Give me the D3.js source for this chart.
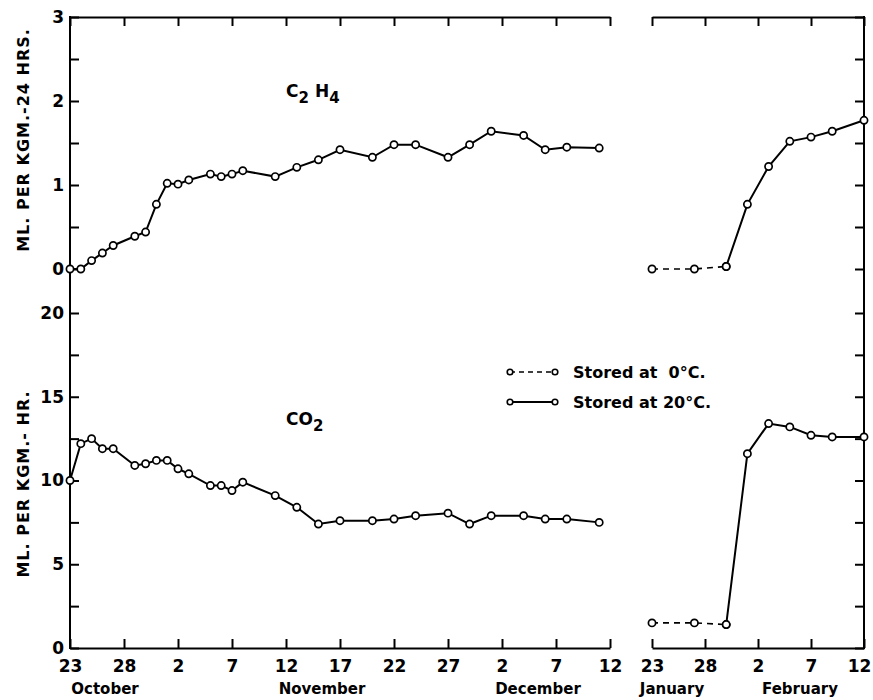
<!DOCTYPE html>
<html>
<head>
<meta charset="utf-8">
<script src="https://cdn.jsdelivr.net/npm/d3@7"></script>
<style>
  body { margin: 0; background: #fff; }
  svg { font-family: "DejaVu Sans", sans-serif; font-weight: bold; }
</style>
</head>
<body>
<script>
// ---------- data ----------
const fallDates = ["Oct 23","Oct 24","Oct 25","Oct 26","Oct 27","Oct 29","Oct 30","Oct 31",
  "Nov 1","Nov 2","Nov 3","Nov 5","Nov 6","Nov 7","Nov 8","Nov 11","Nov 13","Nov 15",
  "Nov 17","Nov 20","Nov 22","Nov 24","Nov 27","Nov 29","Dec 1","Dec 4","Dec 6","Dec 8","Dec 11"];
const c2h4Fall = [0, 0, 0.1, 0.19, 0.28, 0.39, 0.44, 0.77, 1.02, 1.01, 1.06, 1.13, 1.10, 1.13, 1.17,
  1.10, 1.21, 1.30, 1.42, 1.33, 1.48, 1.48, 1.33, 1.48, 1.64, 1.59, 1.42, 1.45, 1.44];
const co2Fall = [10.0, 12.2, 12.5, 11.9, 11.9, 10.9, 11.0, 11.2, 11.2, 10.7, 10.4, 9.7, 9.7, 9.4, 9.9,
  9.1, 8.4, 7.4, 7.6, 7.6, 7.7, 7.9, 8.05, 7.4, 7.9, 7.9, 7.7, 7.7, 7.5];

const coldDates = ["Jan 23","Jan 27","Jan 30"];
const c2h4Cold = [0, 0, 0.03];
const co2Cold = [1.5, 1.5, 1.4];

const warmDates = ["Jan 30","Feb 1","Feb 3","Feb 5","Feb 7","Feb 9","Feb 12"];
const c2h4Warm = [0.03, 0.77, 1.22, 1.52, 1.57, 1.64, 1.77];
const co2Warm = [1.4, 11.6, 13.4, 13.2, 12.7, 12.6, 12.6];

const fallTicks = ["Oct 23","Oct 28","Nov 2","Nov 7","Nov 12","Nov 17","Nov 22","Nov 27","Dec 2","Dec 7","Dec 12"];
const winterTicks = ["Jan 23","Jan 28","Feb 2","Feb 7","Feb 12"];
const monthLabels = ["October","November","December","January","February"];
const c2h4Ticks = [0, 0.5, 1, 1.5, 2, 2.5, 3];
const co2Ticks = [0, 2.5, 5, 7.5, 10, 12.5, 15, 17.5, 20];
const legendLabels = ["Stored at  0\u00B0C.", "Stored at 20\u00B0C."];
const yTitles = ["ML. PER KGM.-24 HRS.", "ML. PER KGM.- HR."];

// ---------- helpers ----------
const parseFall = s => d3.timeParse("%b %d %Y")(s + " 1950");
const parseWinter = s => d3.timeParse("%b %d %Y")(s + " 1951");

const W = 873, H = 700;
const svg = d3.select("body").append("svg").attr("width", W).attr("height", H);

const xFall = d3.scaleTime().domain([parseFall("Oct 23"), parseFall("Dec 12")]).range([70, 610]);
const xWin = d3.scaleTime().domain([parseWinter("Jan 23"), parseWinter("Feb 12")]).range([652, 864]);
const yTop = d3.scaleLinear().domain([0, 3]).range([269, 17]);
const yBot = d3.scaleLinear().domain([0, 20]).range([648, 313]);

const TOP = 17, BOTTOM = 648, TK = 9;

// ---------- axes ----------
function styleAxis(g) {
  g.selectAll("line").attr("stroke", "#000").attr("stroke-width", 2);
  g.selectAll("path.domain").attr("stroke", "#000").attr("stroke-width", 2);
  g.selectAll("text").attr("fill", "#000").attr("font-size", 17).attr("font-family", "DejaVu Sans").attr("font-weight", "bold");
}

// bottom axes
const fmtDay = d3.timeFormat("%-d");
svg.append("g").attr("transform", `translate(0,${BOTTOM})`)
  .call(d3.axisBottom(xFall).tickValues(fallTicks.map(parseFall)).tickFormat(fmtDay).tickSizeInner(-TK).tickSizeOuter(0).tickPadding(12))
  .call(styleAxis);
const gWinB = svg.append("g").attr("transform", `translate(0,${BOTTOM})`)
  .call(d3.axisBottom(xWin).tickValues(winterTicks.map(parseWinter)).tickFormat(fmtDay).tickSizeInner(-TK).tickSizeOuter(0).tickPadding(12))
  .call(styleAxis);
// keep last label inside the page
gWinB.selectAll(".tick text").filter((d, i, n) => i === n.length - 1).attr("dx", -5);

// top borders
svg.append("g").attr("transform", `translate(0,${TOP})`)
  .call(d3.axisTop(xFall).tickValues(fallTicks.map(parseFall)).tickFormat("").tickSizeInner(-TK).tickSizeOuter(0))
  .call(styleAxis);
svg.append("g").attr("transform", `translate(0,${TOP})`)
  .call(d3.axisTop(xWin).tickValues(winterTicks.map(parseWinter)).tickFormat("").tickSizeInner(-TK).tickSizeOuter(0))
  .call(styleAxis);

// left y axes
const gTopL = svg.append("g").attr("transform", "translate(70,0)")
  .call(d3.axisLeft(yTop).tickValues(c2h4Ticks).tickFormat(d => Number.isInteger(d) ? d : "").tickSizeInner(-TK).tickSizeOuter(0).tickPadding(6))
  .call(styleAxis);
gTopL.select("path.domain").remove();
const gBotL = svg.append("g").attr("transform", "translate(70,0)")
  .call(d3.axisLeft(yBot).tickValues(co2Ticks).tickFormat(d => d % 5 === 0 ? d : "").tickSizeInner(-TK).tickSizeOuter(0).tickPadding(6))
  .call(styleAxis);
gBotL.select("path.domain").remove();
// right y axes
const gTopR = svg.append("g").attr("transform", "translate(864,0)")
  .call(d3.axisRight(yTop).tickValues(c2h4Ticks).tickFormat("").tickSizeInner(-TK).tickSizeOuter(0))
  .call(styleAxis);
gTopR.select("path.domain").remove();
const gBotR = svg.append("g").attr("transform", "translate(864,0)")
  .call(d3.axisRight(yBot).tickValues(co2Ticks).tickFormat("").tickSizeInner(-TK).tickSizeOuter(0))
  .call(styleAxis);
gBotR.select("path.domain").remove();

// continuous vertical frame lines
svg.append("line").attr("x1", 70).attr("x2", 70).attr("y1", TOP - 1).attr("y2", BOTTOM + 1)
  .attr("stroke", "#000").attr("stroke-width", 2);
svg.append("line").attr("x1", 864).attr("x2", 864).attr("y1", TOP - 1).attr("y2", BOTTOM + 1)
  .attr("stroke", "#000").attr("stroke-width", 2);

// month labels
const monthX = [105, 322, 538, 672, 800];
monthLabels.forEach((m, i) => {
  svg.append("text").attr("x", monthX[i]).attr("y", 694).attr("text-anchor", "middle")
    .attr("font-size", 15).text(m);
});

// y titles
[[140, yTitles[0]], [484, yTitles[1]]].forEach(([cy, t]) => {
  svg.append("text").attr("transform", `translate(29,${cy}) rotate(-90)`)
    .attr("text-anchor", "middle").attr("font-size", 16).attr("letter-spacing", 1).text(t);
});

// ---------- series ----------
function drawSeries(dates, vals, parse, x, y, dashed) {
  const pts = dates.map((d, i) => [x(parse(d)), y(vals[i])]);
  svg.append("path").attr("d", d3.line()(pts)).attr("fill", "none").attr("stroke", "#000")
    .attr("stroke-width", dashed ? 1.6 : 2).attr("stroke-dasharray", dashed ? "6,5" : null);
  svg.append("g").selectAll("circle").data(pts).join("circle")
    .attr("cx", d => d[0]).attr("cy", d => d[1]).attr("r", 3.6)
    .attr("fill", "#fff").attr("stroke", "#000").attr("stroke-width", 1.7);
}
drawSeries(fallDates, c2h4Fall, parseFall, xFall, yTop, false);
drawSeries(fallDates, co2Fall, parseFall, xFall, yBot, false);
drawSeries(coldDates, c2h4Cold, parseWinter, xWin, yTop, true);
drawSeries(coldDates, co2Cold, parseWinter, xWin, yBot, true);
drawSeries(warmDates, c2h4Warm, parseWinter, xWin, yTop, false);
drawSeries(warmDates, co2Warm, parseWinter, xWin, yBot, false);

// ---------- annotations ----------
const t1 = svg.append("text").attr("x", 286).attr("y", 97).attr("font-size", 17);
t1.append("tspan").text("C");
t1.append("tspan").attr("dy", 6).attr("font-size", 15).text("2");
t1.append("tspan").attr("dy", -6).attr("dx", 6).text("H");
t1.append("tspan").attr("dy", 6).attr("font-size", 15).text("4");

const t2 = svg.append("text").attr("x", 286).attr("y", 425).attr("font-size", 17);
t2.append("tspan").text("CO");
t2.append("tspan").attr("dy", 6).attr("font-size", 15).text("2");

// ---------- legend ----------
const legY = [372, 402];
legY.forEach((ly, i) => {
  svg.append("line").attr("x1", 510).attr("x2", 555).attr("y1", ly).attr("y2", ly)
    .attr("stroke", "#000").attr("stroke-width", i === 0 ? 1.6 : 2).attr("stroke-dasharray", i === 0 ? "5,4" : null);
  [510, 555].forEach(cx => svg.append("circle").attr("cx", cx).attr("cy", ly).attr("r", 2.8)
    .attr("fill", "#fff").attr("stroke", "#000").attr("stroke-width", 1.6));
  svg.append("text").attr("x", 573).attr("y", ly + 6).attr("font-size", 16)
    .style("white-space", "pre").text(legendLabels[i]);
});
</script>
</body>
</html>
